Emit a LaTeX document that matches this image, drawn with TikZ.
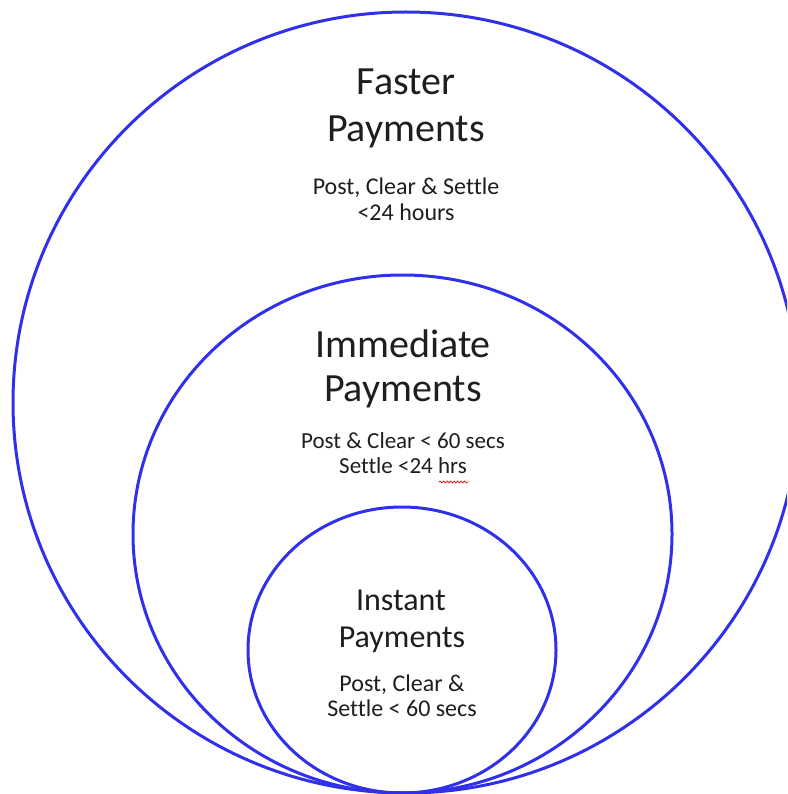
\documentclass[tikz,border=0pt]{standalone}
\usepackage{fontspec}
\setmainfont{Carlito}[Ligatures=NoCommon]
\usetikzlibrary{decorations.pathmorphing}
\definecolor{ringblue}{RGB}{48,48,235}
\definecolor{txt}{RGB}{30,30,30}
\definecolor{squig}{RGB}{215,40,40}
\tikzset{
  ring/.style={draw=ringblue, line width=3pt},
  title/.style={anchor=base, text=txt, inner sep=0pt, font=\fontsize{40}{48}\selectfont},
  smalltitle/.style={anchor=base, text=txt, inner sep=0pt, font=\fontsize{32}{38}\selectfont},
  note/.style={anchor=base, text=txt, inner sep=0pt, font=\fontsize{24}{29}\selectfont},
  notesm/.style={anchor=base, text=txt, inner sep=0pt, font=\fontsize{23}{28}\selectfont},
}
\begin{document}
\begin{tikzpicture}[x=1pt,y=-1pt]
\useasboundingbox (0,0) rectangle (787,794);
\clip (0,0) rectangle (787,794);
\fill[white] (0,0) rectangle (787,794);
% rings
\draw[ring] (406,402.5) ellipse [x radius=393, y radius=390.5];
\draw[ring] (402.5,534) ellipse [x radius=269.5, y radius=259];
\draw[ring] (402,650) ellipse [x radius=154, y radius=143];
% outer texts
\node[title] (f1) at (406,95) {Faster};
\node[title] (f2) at (406,142) {Payments};
\node[note] (f3) at (406,195) {Post, Clear \& Settle};
\node[note] (f4) at (406,221) {<24 hours};
% middle texts
\node[title] (m1) at (403,357) {Immediate};
\node[title] (m2) at (403,401) {Payments};
\node[notesm] (m3) at (403,448) {Post \& Clear < 60 secs};
\node[notesm] (m4) at (403,473) {Settle <24 hrs};
\draw[squig, line width=0.8pt, decorate, decoration={snake, amplitude=1pt, segment length=3.5pt}]
  (439,482) -- (469,482);
% inner texts
\node[smalltitle] (i1) at (401,610) {Instant};
\node[smalltitle] (i2) at (402,647) {Payments};
\node[note] (i3) at (402,691) {Post, Clear \&};
\node[note] (i4) at (402,716) {Settle < 60 secs};
\end{tikzpicture}
\end{document}
